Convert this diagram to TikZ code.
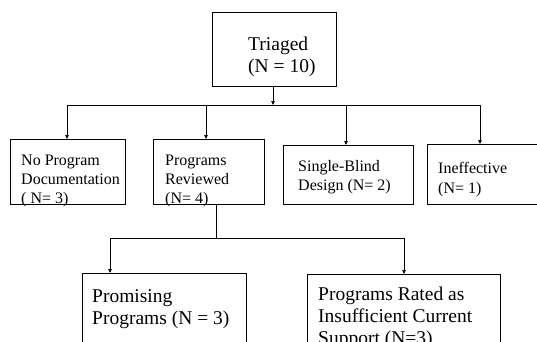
\documentclass[tikz,border=0pt]{standalone}
\usepackage{fontspec}
\setmainfont{Liberation Serif}
\usetikzlibrary{arrows.meta}
\begin{document}
\begin{tikzpicture}[x=1pt,y=-1pt,
  box/.style={draw,line width=0.9pt},
  conn/.style={line width=0.7pt},
  arr/.style={conn,-{Triangle[length=4pt,width=3.5pt]}},
  big/.style={font=\fontsize{19.5}{22}\selectfont,anchor=base west,inner sep=0pt},
  small/.style={font=\fontsize{16}{19}\selectfont,anchor=base west,inner sep=0pt}]
\clip (0,0) rectangle (537,341);
\useasboundingbox (0,0) rectangle (537,341);
% boxes
\draw[box] (212,12) rectangle (336,86);
\coordinate (topb) at (273,86);
\draw[box] (10,139) rectangle (125,204);
\draw[box] (153,139) rectangle (264,204);
\draw[box] (283,145) rectangle (413,204);
\draw[box] (427,144) rectangle (545,204);
\draw[box] (82,273) rectangle (246,360);
\draw[box] (307,274) rectangle (500,360);
% text
\node[big] (t1) at (248,50) {Triaged};
\node[big] (t2) at (248,72) {(N = 10)};
\node[small] (a1) at (21,165) {No Program};
\node[small] (a2) at (21,184) {Documentation};
\node[small] (a3) at (21,203) {( N= 3)};
\node[small] (b1) at (165,165) {Programs};
\node[small] (b2) at (165,184) {Reviewed};
\node[small] (b3) at (165,203) {(N= 4)};
\node[small] (c1) at (298,171) {Single-Blind};
\node[small] (c2) at (298,190) {Design (N= 2)};
\node[small] (d1) at (438,173) {Ineffective};
\node[small] (d2) at (438,193) {(N= 1)};
\node[big] (e1) at (92,302) {Promising};
\node[big] (e2) at (92,324) {Programs (N = 3)};
\node[big] (f1) at (318,300) {Programs Rated as};
\node[big] (f2) at (318,322) {Insufficient Current};
\node[big] (f3) at (318,344) {Support (N=3)};
% connectors
\coordinate (h1) at (67,105);
\coordinate (h2) at (480,105);
\draw[arr] (topb) -- (273,105);
\draw[line width=1pt] (h1) -- (h2);
\draw[arr] (h1) -- (67,139);
\draw[arr] (206,105) -- (206,139);
\draw[arr] (346,105) -- (346,145);
\draw[arr] (h2) -- (480,144);
\coordinate (rb) at (216,204);
\draw[conn] (rb) -- (216,238);
\draw[conn] (110,238) -- (404,238);
\draw[arr] (110,238) -- (110,273);
\draw[arr] (404,238) -- (404,274);
\end{tikzpicture}
\end{document}
